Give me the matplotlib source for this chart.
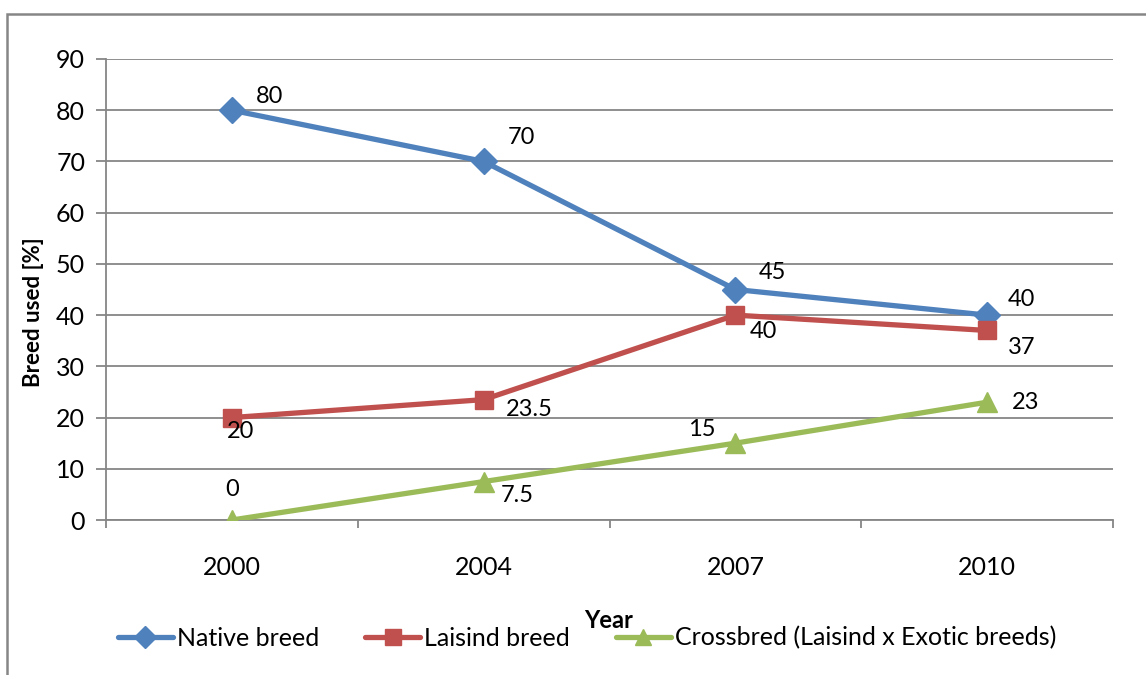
import matplotlib.pyplot as plt
from matplotlib.patches import Rectangle

plt.rcParams['font.family'] = ['Lato', 'DejaVu Sans']

years = ['2000', '2004', '2007', '2010']
native = [80, 70, 45, 40]
laisind = [20, 23.5, 40, 37]
crossbred = [0, 7.5, 15, 23]
labels = ['Native breed', 'Laisind breed', 'Crossbred (Laisind x Exotic breeds)']

# label offsets in points (dx, dy)
native_off = [(27, 10), (27, 17), (27, 12), (25, 11)]
laisind_off = [(6, -10), (33, -7), (20, -12), (25, -12)]
cross_off = [(0, 22), (24, -10), (-24, 10), (28, 0)]

fig = plt.figure(figsize=(11.46, 6.75), dpi=100)
fig.patches.append(Rectangle((7 / 1146, -0.1), 1.2, 1 - 14 / 675 + 0.1,
                             transform=fig.transFigure, fill=False,
                             edgecolor='#868686', linewidth=1.8))
ax = fig.add_axes([106 / 1146, 1 - 520 / 675, (1113 - 106) / 1146, (520 - 59) / 675])

x = range(len(years))
series = [
    (native, '#4F81BD', 'D', 13, native_off),
    (laisind, '#C0504D', 's', 13, laisind_off),
    (crossbred, '#9BBB59', '^', 14, cross_off),
]
for (vals, col, mk, ms, offs), lab in zip(series, labels):
    ax.plot(x, vals, color=col, marker=mk, markersize=ms, linewidth=3.8,
            label=lab, solid_capstyle='round', zorder=3)
    for xi, v, (dx, dy) in zip(x, vals, offs):
        ax.annotate(f'{v:g}', (xi, v), xytext=(dx, dy), textcoords='offset points',
                    ha='center', va='center', fontsize=17, color='black')

ax.set_xlim(-0.5, 3.5)
ax.set_ylim(0, 90)
ax.set_yticks(range(0, 91, 10))
ax.set_xticks(list(x))
ax.set_xticklabels(years)
ax.set_xticks([-0.5, 0.5, 1.5, 2.5, 3.5], minor=True)
ax.tick_params(axis='x', which='major', length=0, pad=26, labelsize=18)
ax.tick_params(axis='x', which='minor', length=6, color='#868686', width=1.3)
ax.tick_params(axis='y', length=7, color='#868686', width=1.3, labelsize=18, pad=8)
ax.grid(axis='y', color='#868686', linewidth=1.3)
ax.set_axisbelow(True)
for s in ['top', 'right']:
    ax.spines[s].set_visible(False)
for s in ['left', 'bottom']:
    ax.spines[s].set_color('#868686')
    ax.spines[s].set_linewidth(1.3)

ax.set_ylabel('Breed used [%]', fontsize=16, fontweight='bold')
ax.yaxis.set_label_coords(-62 / 1007, 0.451)
fig.text(609 / 1146, 1 - 620 / 675, 'Year', fontsize=17, fontweight='bold',
         ha='center', va='center')

fig.legend(loc='center', bbox_to_anchor=(587 / 1146, 1 - 638 / 675), ncol=3,
           frameon=False, fontsize=18, handlelength=2.2, columnspacing=1.85,
           handletextpad=0.15, markerscale=0.85)

fig.savefig('out.png', dpi=100)
